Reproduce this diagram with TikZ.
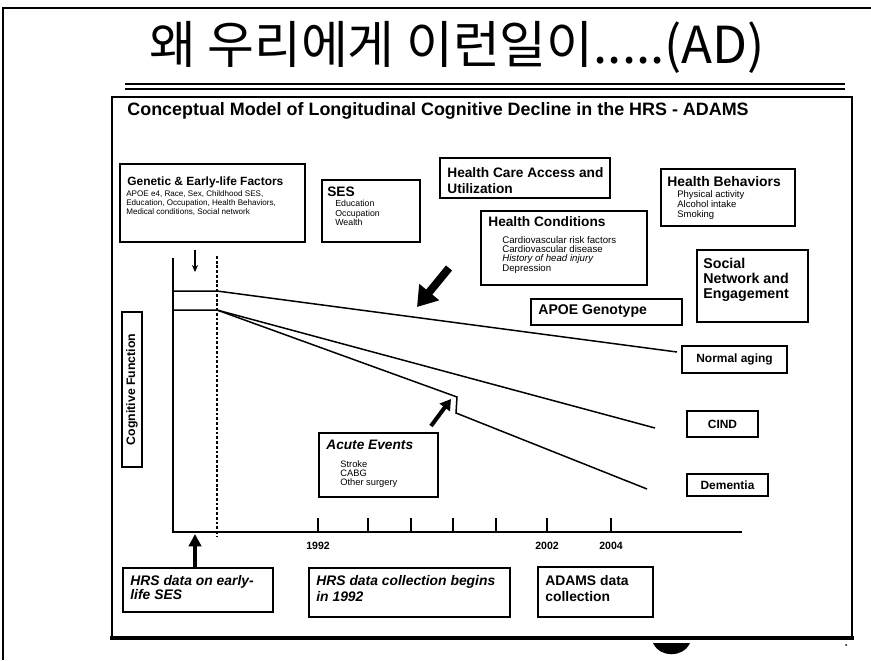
\documentclass[tikz,border=0pt]{standalone}
\usepackage{fontspec}
\setmainfont{Liberation Sans}
\newfontfamily\krfont{Noto Sans CJK KR}
\usetikzlibrary{arrows.meta,fit}
\newcommand\myfs[2]{\fontsize{#1}{#2}\selectfont}
\begin{document}
\begin{tikzpicture}[x=0.02cm,y=-0.02cm,
  box/.style={draw, line width=0.8pt, inner sep=0pt},
  ttl/.style={font=\bfseries\myfs{7.8}{9}, anchor=north west, inner sep=0pt, align=left},
  sm/.style={font=\myfs{5}{5.4}, anchor=north west, inner sep=0pt, align=left},
  lbl/.style={font=\bfseries\myfs{6.8}{7}, inner sep=0pt},
  curve/.style={line width=0.85pt},
  axisl/.style={line width=0.9pt},
  yr/.style={font=\bfseries\myfs{6}{7}, inner sep=0pt}]
\path[use as bounding box] (0,0) rectangle (871,660);
% outer frame
\draw[line width=0.9pt] (3,660) -- (3,8) -- (871,8);
% title
\node[font=\krfont\myfs{29}{30}, inner sep=0pt] (title) at (457,47) {왜 우리에게 이런일이.....(AD)};
\draw[line width=0.7pt] (125,84) -- (845,84);
\draw[line width=1.6pt] (125,89) -- (845,89);
% inner frame
\draw[line width=0.8pt] (112,638) -- (112,97) -- (852,97) -- (852,638);
\draw[line width=2.2pt] (110,638) -- (854,638);
\node[font=\bfseries\myfs{10.2}{11}, inner sep=0pt] (sub) at (438,111) {Conceptual Model of Longitudinal Cognitive Decline in the HRS - ADAMS};
% Genetic
\node[box, fit={(120,164)(305,242)}] (gen) {};
\node[ttl, font=\bfseries\myfs{6.8}{8}] (genT) at (127,176) {Genetic \& Early-life Factors};
\node[sm, font=\myfs{4.6}{5.3}] (genB) at (126,190) {APOE e4, Race, Sex, Childhood SES,\\Education, Occupation, Health Behaviors,\\Medical conditions, Social network};
% SES
\node[box, fit={(322,180)(420,242)}] (ses) {};
\node[ttl] (sesT) at (327,186.5) {SES};
\node[sm] (sesB) at (335,200) {Education\\Occupation\\Wealth};
% Health care
\node[box, fit={(440,158)(610,198)}] (hca) {};
\node[ttl] (hcaT) at (447,167.5) {Health Care Access and\\Utilization};
% Health behaviors
\node[box, fit={(661,169)(795,226)}] (hb) {};
\node[ttl, font=\bfseries\myfs{7.9}{8.5}] (hbT) at (667,176) {Health Behaviors};
\node[sm, font=\myfs{5.4}{5.8}] (hbB) at (677,190) {Physical activity\\Alcohol intake\\Smoking};
% Health conditions
\node[box, fit={(481,211)(647,285)}] (hc) {};
\node[ttl] (hcT) at (488,216) {Health Conditions};
\node[sm, font=\myfs{5.5}{4.9}] (hcB) at (502,236.5) {Cardiovascular risk factors\\Cardiovascular disease\\\textit{History of head injury}\\Depression};
% Social network
\node[box, fit={(697,250)(808,322)}] (soc) {};
\node[ttl, font=\bfseries\myfs{8.1}{8.5}] (socT) at (703,257.5) {Social\\Network and\\Engagement};
% APOE
\node[box, fit={(531,299)(682,325)}] (apoe) {};
\node[font=\bfseries\myfs{8}{8}, anchor=west, inner sep=0pt] (apoeT) at (538,311) {APOE Genotype};
% outcome boxes
\node[box, fit={(682,346)(787,373)}] (norm) {};
\node[lbl] (normT) at (norm.center) {Normal aging};
\node[box, fit={(687,411)(758,437)}] (cind) {};
\node[lbl] (cindT) at (cind.center) {CIND};
\node[box, fit={(687,474)(768,496)}] (dem) {};
\node[lbl] (demT) at (dem.center) {Dementia};
% Acute events
\node[box, fit={(319,433)(438,497)}] (acu) {};
\node[ttl, font=\bfseries\itshape\myfs{7.8}{8.5}] (acuT) at (326,440) {Acute Events};
\node[sm, font=\myfs{5.3}{5.2}] (acuB) at (340,460) {Stroke\\CABG\\Other surgery};
% Cognitive function
\node[box, fit={(122,312)(142,467)}] (cog) {};
\node[font=\bfseries\myfs{7}{8}, rotate=90, inner sep=0pt] (cogT) at (cog.center) {Cognitive Function};
% bottom boxes
\node[box, fit={(123,568)(273,612)}] (ear) {};
\node[ttl, font=\bfseries\itshape\myfs{7.9}{8}] (earT) at (130,575) {HRS data on early-\\life SES};
\node[box, fit={(309,568)(510,617)}] (hrs) {};
\node[ttl, font=\bfseries\itshape\myfs{7.9}{9}] (hrsT) at (316,575) {HRS data collection begins\\in 1992};
\node[box, fit={(538,567)(653,617)}] (adm) {};
\node[ttl, font=\bfseries\myfs{7.9}{9}] (admT) at (545,575) {ADAMS data\\collection};
% axes
\coordinate (ax0) at (173,258);
\coordinate (ax1) at (173,532);
\coordinate (ax2) at (742,532);
\draw[axisl] (ax0) -- (ax1) -- (ax2);
\coordinate (ds0) at (217,256);
\coordinate (ds1) at (217,537);
\draw[line width=0.6pt, dash pattern=on 1.6pt off 1.1pt] (ds0) -- (ds1);
\foreach \t in {318,368,411,453,496,547,611} {\draw[axisl] (\t,518) -- (\t,532);}
\node[yr] (y1992) at (318,546) {1992};
\node[yr] (y2002) at (547,546) {2002};
\node[yr] (y2004) at (611,546) {2004};
% curves
\coordinate (nA) at (173,291); \coordinate (nB) at (217,291); \coordinate (nC) at (677,352);
\coordinate (cA) at (173,310); \coordinate (cB) at (217,310); \coordinate (cC) at (655,428);
\coordinate (dA) at (457,397); \coordinate (dB) at (456,413); \coordinate (dC) at (647,489);
\draw[curve] (nA) -- (nB) -- (nC);
\draw[curve] (cA) -- (cB) -- (cC);
\draw[curve] (cB) -- (dA) -- (dB) -- (dC);
% arrows
\coordinate (sa0) at (195,250); \coordinate (sa1) at (195,272);
\draw[line width=0.7pt, -{Stealth[length=4pt,width=3.5pt]}] (sa0) -- (sa1);
\coordinate (ba0) at (449,268); \coordinate (ba1) at (417,307);
\draw[line width=4.5pt, -{Triangle[length=11pt,width=14pt]}] (ba0) -- (ba1);
\coordinate (ac0) at (431,426); \coordinate (ac1) at (451,399);
\draw[line width=2.3pt, -{Triangle[length=6pt,width=7pt]}] (ac0) -- (ac1);
\coordinate (ua0) at (195,568); \coordinate (ua1) at (195,534);
\draw[line width=2.5pt, -{Triangle[length=7pt,width=7pt]}] (ua0) -- (ua1);
% bottom marks
\fill (653,643) .. controls (660,658) and (683,658) .. (690,643) -- cycle;
\fill (846,645) circle (1);
\end{tikzpicture}
\end{document}
